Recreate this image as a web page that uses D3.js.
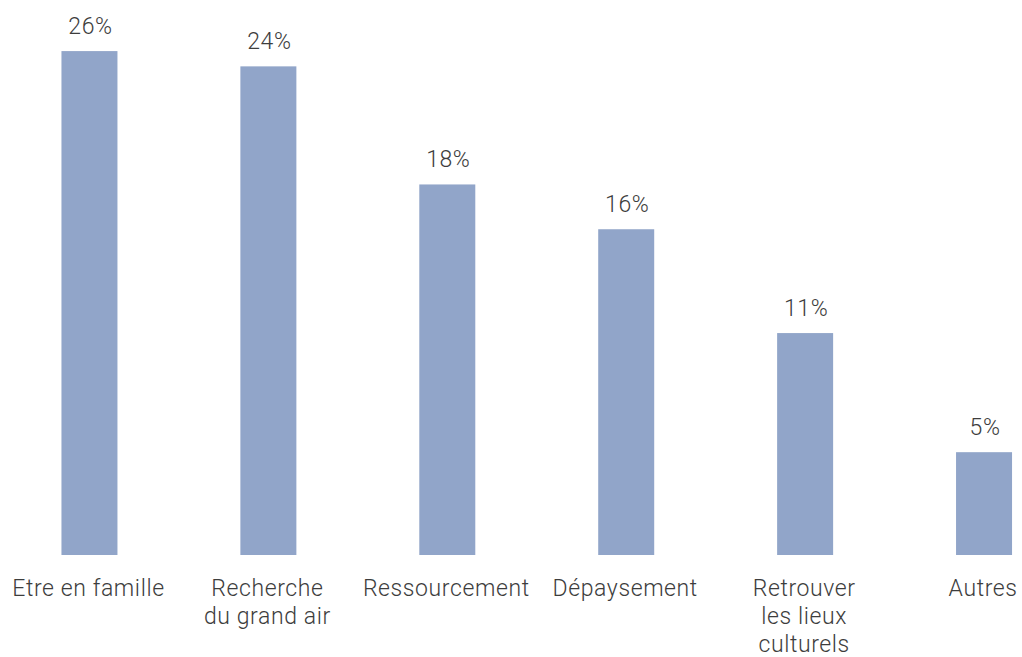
<!DOCTYPE html>
<html>
<head>
<meta charset="utf-8">
<script src="https://cdn.jsdelivr.net/npm/d3@7"></script>
<style>
  html, body { margin: 0; padding: 0; background: #fff; }
  svg { display: block; }
  text { font-family: Roboto, "Noto Sans", sans-serif; font-weight: 300; fill: #3d3d3d; }
</style>
</head>
<body>
<svg id="chart" width="1022" height="657"></svg>
<script>
const categories = [
  ["Etre en famille"],
  ["Recherche", "du grand air"],
  ["Ressourcement"],
  ["Dépaysement"],
  ["Retrouver", "les lieux", "culturels"],
  ["Autres"]
];
const values = [24.75, 24.0, 18.2, 16.0, 10.9, 5.05];
const valueLabels = ["26%", "24%", "18%", "16%", "11%", "5%"];

const svg = d3.select("#chart");
const baseY = 555;

const x = d3.scaleBand()
  .domain(d3.range(categories.length))
  .range([0, 1073.5])
  .paddingInner(0.687)
  .paddingOuter(0.3435);

const y = d3.scaleLinear()
  .domain([0, 25])
  .range([baseY, baseY - 509]);

svg.selectAll("rect.bar")
  .data(values)
  .join("rect")
  .attr("class", "bar")
  .attr("x", (d, i) => x(i))
  .attr("width", x.bandwidth())
  .attr("y", d => y(d))
  .attr("height", d => y(0) - y(d))
  .attr("fill", "#91a5c9");

svg.selectAll("text.val")
  .data(values)
  .join("text")
  .attr("class", "val")
  .attr("x", (d, i) => x(i) + x.bandwidth() / 2 + 1)
  .attr("y", d => y(d) - 17.5)
  .attr("text-anchor", "middle")
  .style("font-size", "23px")
  .style("letter-spacing", "0.6px")
  .text((d, i) => valueLabels[i]);

const lab = svg.selectAll("text.cat")
  .data(categories)
  .join("text")
  .attr("class", "cat")
  .attr("text-anchor", "middle")
  .style("font-size", "23px")
  .style("letter-spacing", "0.6px")
  .attr("transform", (d, i) => `translate(${x(i) + x.bandwidth() / 2 - 1},596)`);

lab.selectAll("tspan")
  .data(d => d)
  .join("tspan")
  .attr("x", 0)
  .attr("y", (d, j) => j * 27.8)
  .text(d => d);
</script>
</body>
</html>
